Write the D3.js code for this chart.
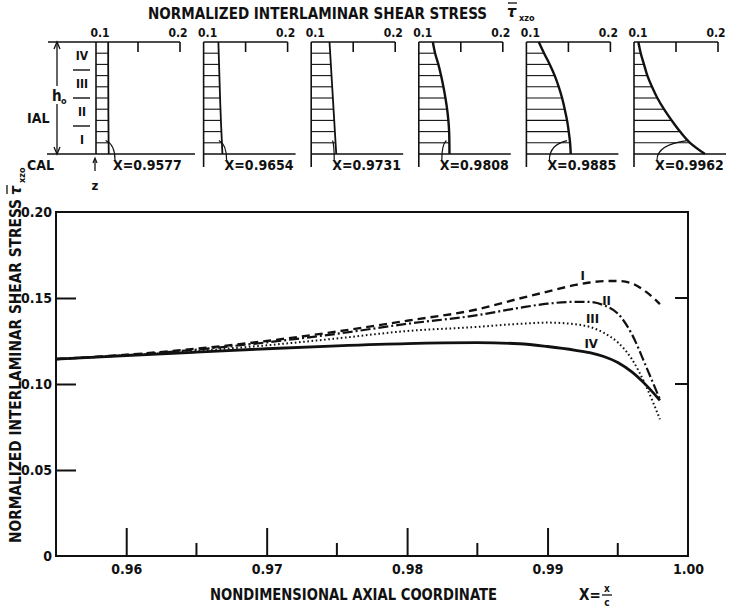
<!DOCTYPE html>
<html>
<head>
<meta charset="utf-8">
<script src="https://cdn.jsdelivr.net/npm/d3@7"></script>
<style>
    body { margin: 0; background: #fff; }
    svg text {
        font-family: "Liberation Sans Narrow", "DejaVu Sans Condensed", "Liberation Sans", sans-serif;
        font-weight: bold;
        fill: #111;
    }
</style>
</head>
<body>
<div id="chart"></div>
<script>

// main chart: shear stress along the axial coordinate, one curve per IAL layer
const axialCoord = [0.955, 0.960, 0.965, 0.970, 0.975, 0.980, 0.985, 0.988, 0.990, 0.992, 0.993, 0.994, 0.995, 0.996, 0.997, 0.998];
const stressI   = [0.1145, 0.1170, 0.1205, 0.1250, 0.1305, 0.1368, 0.1434, 0.1497, 0.1537, 0.1576, 0.1590, 0.1598, 0.1599, 0.1585, 0.1537, 0.1465];
const stressII  = [0.1145, 0.1168, 0.1200, 0.1242, 0.1292, 0.1350, 0.1400, 0.1443, 0.1467, 0.1478, 0.1477, 0.1458, 0.1410, 0.1290, 0.1105, 0.0910];
const stressIII = [0.1145, 0.1166, 0.1192, 0.1225, 0.1265, 0.1308, 0.1332, 0.1350, 0.1357, 0.1347, 0.1332, 0.1298, 0.1242, 0.1145, 0.0990, 0.0795];
const stressIV  = [0.1145, 0.1165, 0.1185, 0.1205, 0.1222, 0.1235, 0.1240, 0.1234, 0.1218, 0.1196, 0.1182, 0.1160, 0.1125, 0.1070, 0.0995, 0.0905];
const layerNames = ["I", "II", "III", "IV"];

const xTicksMajor = [0.96, 0.97, 0.98, 0.99, 1.00];
const xTicksMinor = [0.965, 0.975, 0.985, 0.995];
const yTicks = [0, 0.05, 0.10, 0.15, 0.20];

// top panels: through-thickness profiles, z/h0 from top (1) to bottom (0)
const panelCoords = ["0.9577", "0.9654", "0.9731", "0.9808", "0.9885", "0.9962"];
const zLevels  = [1.0, 0.9, 0.8, 0.7, 0.6, 0.5, 0.4, 0.3, 0.2, 0.1, 0.0];
const profile1 = [0.1145, 0.1145, 0.1145, 0.1146, 0.1146, 0.1147, 0.1147, 0.1148, 0.1149, 0.1150, 0.1152];
const profile2 = [0.1176, 0.1180, 0.1184, 0.1188, 0.1192, 0.1196, 0.1201, 0.1206, 0.1212, 0.1218, 0.1224];
const profile3 = [0.1218, 0.1226, 0.1234, 0.1242, 0.1250, 0.1258, 0.1266, 0.1274, 0.1282, 0.1290, 0.1298];
const profile4 = [0.1167, 0.1194, 0.1233, 0.1265, 0.1293, 0.1317, 0.1337, 0.1352, 0.1361, 0.1364, 0.1365];
const profile5 = [0.1147, 0.1210, 0.1278, 0.1337, 0.1385, 0.1425, 0.1456, 0.1484, 0.1504, 0.1520, 0.1528];
const profile6 = [0.1052, 0.1080, 0.1119, 0.1159, 0.1214, 0.1278, 0.1357, 0.1448, 0.1548, 0.1667, 0.1845];
const panelTicks = [0.1, 0.15, 0.2];


class ShearVis {

    constructor(_parentElement) {
        this.parentElement = _parentElement;
        this.initVis();
    }

    initVis() {
        let vis = this;

        vis.width = 733;
        vis.height = 609;

        vis.svg = d3.select(`#${vis.parentElement}`)
            .append("svg")
            .attr("width", vis.width)
            .attr("height", vis.height);

        // main plot area
        vis.x = d3.scaleLinear().domain([0.955, 1.0]).range([56, 688]);
        vis.y = d3.scaleLinear().domain([0, 0.2]).range([556, 212]);

        vis.wrangleData();
    }

    wrangleData() {
        let vis = this;

        let series = [stressI, stressII, stressIII, stressIV];
        vis.curves = layerNames.map((name, i) => ({
            name: name,
            values: axialCoord.map((c, j) => ({x: c, y: series[i][j]}))
        }));

        let profiles = [profile1, profile2, profile3, profile4, profile5, profile6];
        vis.panels = panelCoords.map((c, i) => ({
            label: "X=" + c,
            values: zLevels.map((z, j) => ({z: z, v: profiles[i][j]}))
        }));

        vis.updateVis();
    }

    updateVis() {
        let vis = this;
        vis.drawMain();
        vis.drawPanels();
    }

    // tau with an overbar and the xzo subscript
    tauSymbol(g, x, y, rotate) {
        let s = g.append("g").attr("transform", `translate(${x},${y})` + (rotate ? " rotate(-90)" : ""));
        s.append("text").attr("x", 0).attr("y", 0).attr("font-size", 16)
            .attr("font-style", "italic").text("τ");
        s.append("line").attr("x1", 1).attr("x2", 10).attr("y1", -14).attr("y2", -14)
            .attr("stroke", "#111").attr("stroke-width", 1.3);
        s.append("text").attr("x", 12).attr("y", 4).attr("font-size", 9).text("xzo");
    }

    drawMain() {
        let vis = this;
        let g = vis.svg.append("g");

        // frame
        g.append("rect")
            .attr("x", vis.x(0.955)).attr("y", vis.y(0.2))
            .attr("width", vis.x(1.0) - vis.x(0.955))
            .attr("height", vis.y(0) - vis.y(0.2))
            .attr("fill", "none").attr("stroke", "#111").attr("stroke-width", 2);

        // bottom axis, ticks pointing inward
        let xAxis = g.append("g")
            .attr("transform", `translate(0,${vis.y(0)})`)
            .call(d3.axisBottom(vis.x).tickValues(xTicksMajor).tickSize(-28).tickPadding(8)
                .tickFormat(d3.format(".2f")));
        xAxis.select(".domain").remove();
        xAxis.selectAll("line").attr("stroke", "#111").attr("stroke-width", 2)
            .filter(d => d === 1.0).remove();
        xAxis.selectAll("text").attr("font-size", 14).attr("fill", "#111");

        g.selectAll(".minor-x").data(xTicksMinor).enter().append("line")
            .attr("x1", d => vis.x(d)).attr("x2", d => vis.x(d))
            .attr("y1", vis.y(0)).attr("y2", vis.y(0) - 13)
            .attr("stroke", "#111").attr("stroke-width", 2);

        // left axis
        let yAxis = g.append("g")
            .attr("transform", `translate(${vis.x(0.955)},0)`)
            .call(d3.axisLeft(vis.y).tickValues(yTicks).tickSize(-20).tickPadding(4)
                .tickFormat(d => d === 0 ? "0" : d.toFixed(2)));
        yAxis.select(".domain").remove();
        yAxis.selectAll("line").attr("stroke", "#111").attr("stroke-width", 2)
            .filter(d => d === 0 || d === 0.2).remove();
        yAxis.selectAll("text").attr("font-size", 14).attr("fill", "#111");

        // right ticks
        g.selectAll(".right-tick").data([0.10, 0.15]).enter().append("line")
            .attr("x1", vis.x(1.0)).attr("x2", vis.x(1.0) - 13)
            .attr("y1", d => vis.y(d)).attr("y2", d => vis.y(d))
            .attr("stroke", "#111").attr("stroke-width", 2);

        // curves
        let line = d3.line()
            .x(d => vis.x(d.x))
            .y(d => vis.y(d.y))
            .curve(d3.curveMonotoneX);

        let styles = {
            "I":   {dash: "8,5", w: 2.4},
            "II":  {dash: "10,3,2,3", w: 2.2},
            "III": {dash: "1.6,2.6", w: 2},
            "IV":  {dash: null, w: 2.8}
        };

        g.selectAll(".curve").data(vis.curves).enter().append("path")
            .attr("class", "curve")
            .attr("d", d => line(d.values))
            .attr("fill", "none")
            .attr("stroke", "#111")
            .attr("stroke-width", d => styles[d.name].w)
            .attr("stroke-dasharray", d => styles[d.name].dash);

        // curve labels, placed in data units
        let labelAt = {"I": [0.9925, 0.1634], "II": [0.9942, 0.1488], "III": [0.9932, 0.1384], "IV": [0.9931, 0.1233]};
        g.selectAll(".curve-label").data(layerNames).enter().append("text")
            .attr("x", d => vis.x(labelAt[d][0]))
            .attr("y", d => vis.y(labelAt[d][1]))
            .attr("dy", "0.35em")
            .attr("text-anchor", "middle")
            .attr("font-size", 13)
            .text(d => d);

        // axis titles
        g.append("text")
            .attr("transform", "translate(21,543) rotate(-90)")
            .attr("font-size", 15)
            .attr("textLength", 344).attr("lengthAdjust", "spacingAndGlyphs")
            .text("NORMALIZED INTERLAMINAR SHEAR STRESS");
        vis.tauSymbol(g, 21, 195, true);

        g.append("text")
            .attr("x", 210).attr("y", 600)
            .attr("font-size", 15)
            .attr("textLength", 287).attr("lengthAdjust", "spacingAndGlyphs")
            .text("NONDIMENSIONAL AXIAL COORDINATE");

        g.append("text").attr("x", 579).attr("y", 600).attr("font-size", 15).text("X=");
        g.append("text").attr("x", 607).attr("y", 592).attr("font-size", 10)
            .attr("text-anchor", "middle").text("x");
        g.append("line").attr("x1", 602).attr("x2", 612).attr("y1", 595).attr("y2", 595)
            .attr("stroke", "#111").attr("stroke-width", 1.3);
        g.append("text").attr("x", 607).attr("y", 606).attr("font-size", 10)
            .attr("text-anchor", "middle").text("c");
    }

    drawPanels() {
        let vis = this;
        let g = vis.svg.append("g");

        let top = 42, base = 154;
        let sz = d3.scaleLinear().domain([1, 0]).range([top, base]);

        // title
        g.append("text").attr("x", 148).attr("y", 19).attr("font-size", 15)
            .attr("textLength", 339).attr("lengthAdjust", "spacingAndGlyphs")
            .text("NORMALIZED INTERLAMINAR SHEAR STRESS");
        vis.tauSymbol(g, 507, 17, false);

        vis.panels.forEach((p, i) => {
            let left = 96 + i * 107.6;
            let sx = d3.scaleLinear().domain([0.1, 0.2]).range([left, left + 84]);
            let pg = g.append("g");

            // top scale line with ticks
            pg.append("line")
                .attr("x1", i === 0 ? 48 : left).attr("x2", sx(0.2))
                .attr("y1", top).attr("y2", top)
                .attr("stroke", "#111").attr("stroke-width", 1.6);
            pg.selectAll(".ptick").data(panelTicks.slice(1)).enter().append("line")
                .attr("x1", d => sx(d)).attr("x2", d => sx(d))
                .attr("y1", top).attr("y2", top + 10)
                .attr("stroke", "#111").attr("stroke-width", 1.6);
            pg.selectAll(".plabel").data([0.1, 0.2]).enter().append("text")
                .attr("x", d => sx(d) + (d === 0.1 ? 4 : -2))
                .attr("y", 37)
                .attr("text-anchor", "middle")
                .attr("font-size", 12)
                .text(d => d.toFixed(1));

            // left axis line and baseline
            pg.append("line")
                .attr("x1", left).attr("x2", left)
                .attr("y1", top).attr("y2", i === 0 ? base : 167)
                .attr("stroke", "#111").attr("stroke-width", 1.6);
            pg.append("line")
                .attr("x1", i === 0 ? 47 : left).attr("x2", left + (i === 0 ? 99 : 92))
                .attr("y1", base).attr("y2", base)
                .attr("stroke", "#111").attr("stroke-width", 1.6);

            // hatching between axis and profile
            pg.selectAll(".hatch").data(p.values.filter(d => d.z > 0 && d.z < 1)).enter().append("line")
                .attr("x1", left).attr("x2", d => sx(d.v))
                .attr("y1", d => sz(d.z)).attr("y2", d => sz(d.z))
                .attr("stroke", "#111").attr("stroke-width", 1.1);

            // profile
            let line = d3.line()
                .x(d => sx(d.v))
                .y(d => sz(d.z))
                .curve(d3.curveMonotoneY);
            pg.append("path")
                .attr("d", line(p.values))
                .attr("fill", "none").attr("stroke", "#111")
                .attr("stroke-width", i < 3 ? 1.8 : 2.4);

            // label and leader
            let lx = left + (i === 0 ? 17 : 21);
            pg.append("text")
                .attr("x", lx).attr("y", 170)
                .attr("font-size", 14)
                .text(p.label);
            let target = p.values[9];
            let px = sx(target.v) - 3, py = sz(0.12);
            pg.append("path")
                .attr("d", `M${lx + 2},160 Q${lx + 2},${py + 4} ${px},${py}`)
                .attr("fill", "none").attr("stroke", "#111").attr("stroke-width", 1.2);
        });

        // layer annotations left of the first panel
        let layerZ = [[0.875, "IV"], [0.625, "III"], [0.375, "II"], [0.125, "I"]];
        g.selectAll(".layer").data(layerZ).enter().append("text")
            .attr("x", 82).attr("y", d => sz(d[0]))
            .attr("dy", "0.35em").attr("text-anchor", "middle")
            .attr("font-size", 12)
            .text(d => d[1]);
        g.selectAll(".sep").data([0.75, 0.5, 0.25]).enter().append("line")
            .attr("x1", 73).attr("x2", 90)
            .attr("y1", d => sz(d)).attr("y2", d => sz(d))
            .attr("stroke", "#111").attr("stroke-width", 1.4);

        // h0 bracket
        g.append("line").attr("x1", 57).attr("x2", 57).attr("y1", top + 1).attr("y2", 86)
            .attr("stroke", "#111").attr("stroke-width", 1.3);
        g.append("line").attr("x1", 57).attr("x2", 57).attr("y1", 104).attr("y2", base - 1)
            .attr("stroke", "#111").attr("stroke-width", 1.3);
        g.append("path").attr("d", `M54,${top + 7} L57,${top} L60,${top + 7}`)
            .attr("fill", "none").attr("stroke", "#111").attr("stroke-width", 1.3);
        g.append("path").attr("d", `M54,${base - 7} L57,${base} L60,${base - 7}`)
            .attr("fill", "none").attr("stroke", "#111").attr("stroke-width", 1.3);
        g.append("text").attr("x", 52).attr("y", 101).attr("font-size", 15).text("h");
        g.append("text").attr("x", 61).attr("y", 104).attr("font-size", 9).text("o");

        g.append("text").attr("x", 27).attr("y", 123).attr("font-size", 14).text("IAL");
        g.append("text").attr("x", 27).attr("y", 170).attr("font-size", 14).text("CAL");

        // z arrow under the first panel
        g.append("line").attr("x1", 95).attr("x2", 95).attr("y1", 171).attr("y2", 159)
            .attr("stroke", "#111").attr("stroke-width", 1.3);
        g.append("path").attr("d", "M93,163 L95,158 L97,163")
            .attr("fill", "none").attr("stroke", "#111").attr("stroke-width", 1.2);
        g.append("text").attr("x", 95).attr("y", 190).attr("text-anchor", "middle")
            .attr("font-size", 13).text("z");
    }
}

new ShearVis("chart");

</script>
</body>
</html>
